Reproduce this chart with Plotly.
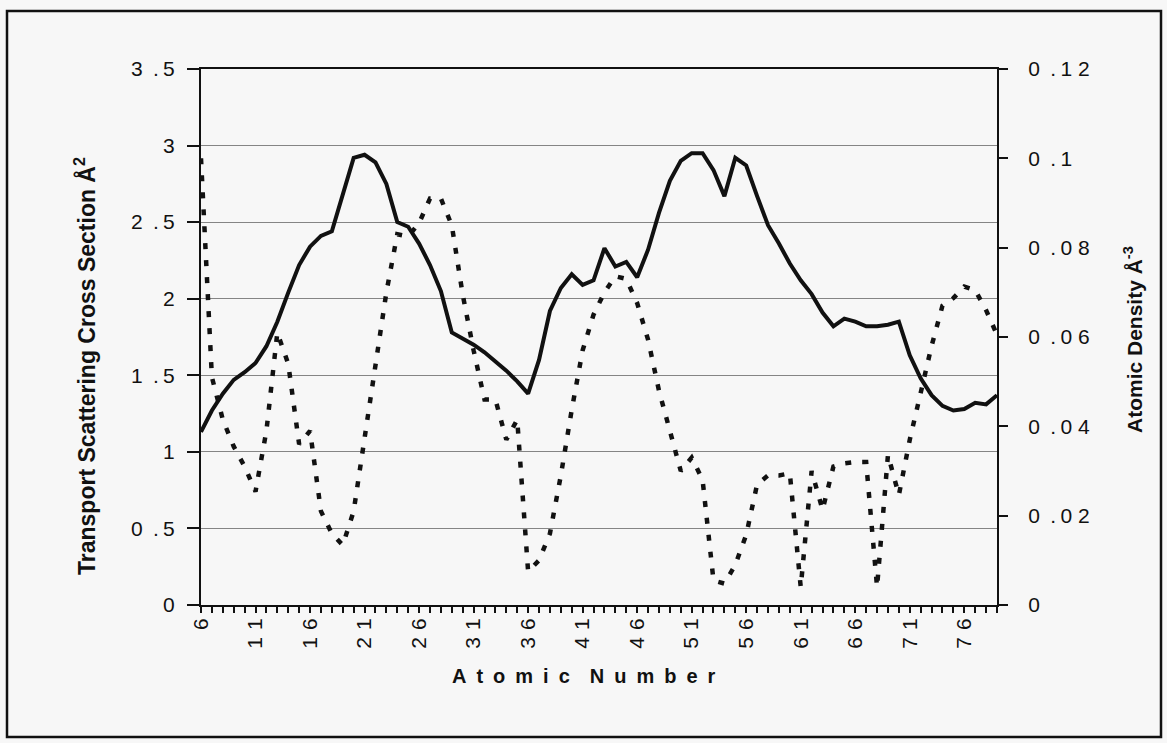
import plotly.graph_objects as go

# Atomic number on the category axis
atomic_number = list(range(6, 80))

# Transport scattering cross section (Å^2), left axis
cross_section = [
    1.13, 1.27, 1.38, 1.47, 1.52, 1.58, 1.69, 1.85, 2.04, 2.22,   # 6-15
    2.34, 2.41, 2.44, 2.67, 2.92, 2.94, 2.89, 2.75, 2.50, 2.47,   # 16-25
    2.36, 2.22, 2.05, 1.78, 1.74, 1.70, 1.65, 1.59, 1.53, 1.46,   # 26-35
    1.38, 1.60, 1.92, 2.07, 2.16, 2.09, 2.12, 2.33, 2.21, 2.24,   # 36-45
    2.14, 2.32, 2.56, 2.77, 2.90, 2.95, 2.95, 2.84, 2.67, 2.92,   # 46-55
    2.87, 2.67, 2.48, 2.36, 2.23, 2.12, 2.03, 1.91, 1.82, 1.87,   # 56-65
    1.85, 1.82, 1.82, 1.83, 1.85, 1.63, 1.48, 1.37, 1.30, 1.27,   # 66-75
    1.28, 1.32, 1.31, 1.37,                                       # 76-79
]

# Atomic density (Å^-3), right axis
atomic_density = [
    0.100, 0.051, 0.0415, 0.0355, 0.031, 0.0254, 0.039, 0.061, 0.054, 0.036,      # 6-15
    0.039, 0.021, 0.016, 0.0134, 0.021, 0.037, 0.054, 0.070, 0.083, 0.0825,       # 16-25
    0.0855, 0.091, 0.091, 0.085, 0.0695, 0.057, 0.046, 0.046, 0.037, 0.0415,      # 26-35
    0.0075, 0.010, 0.016, 0.029, 0.0437, 0.057, 0.065, 0.070, 0.0736, 0.073,      # 36-45
    0.0676, 0.0594, 0.048, 0.0385, 0.030, 0.033, 0.028, 0.0055, 0.0048, 0.009,    # 46-55
    0.0157, 0.027, 0.029, 0.029, 0.0295, 0.004, 0.030, 0.0213, 0.031, 0.0317,    # 56-65
    0.032, 0.032, 0.004, 0.0336, 0.0246, 0.037, 0.048, 0.058, 0.067, 0.0687,     # 66-75
    0.0713, 0.0705, 0.066, 0.0605,                                                # 76-79
]

# Typographic spaces used for the widely tracked labels
EN = "\u2002"
THIN = "\u2009"
THREE = "\u2004"


def tracked(number_text):
    """Spread the characters of a tick label the way the printed axis shows them."""
    if "." in number_text:
        head, tail = number_text.split(".")
        return head + EN + "." + THIN + " ".join(tail)
    return THREE.join(number_text)


# Axis tick values and their printed labels
x_labelled = list(range(6, 80, 5))
x_ticktext = [tracked(str(z)) if z in x_labelled else "" for z in atomic_number]

left_tickvals = [0, 0.5, 1, 1.5, 2, 2.5, 3, 3.5]
left_ticktext = [tracked(s) for s in ["0", "0.5", "1", "1.5", "2", "2.5", "3", "3.5"]]

right_tickvals = [0, 0.02, 0.04, 0.06, 0.08, 0.10, 0.12]
right_ticktext = [tracked(s) for s in ["0", "0.02", "0.04", "0.06", "0.08", "0.1", "0.12"]]

INK = "#111111"
PAPER = "#f7f7f7"
FONT = "Liberation Sans, Arial, sans-serif"

fig = go.Figure()

fig.add_trace(go.Scatter(
    x=atomic_number, y=cross_section, mode="lines",
    line=dict(color=INK, width=4),
    yaxis="y", hoverinfo="skip",
))
fig.add_trace(go.Scatter(
    x=atomic_number, y=atomic_density, mode="lines",
    line=dict(color=INK, width=4.5, dash="6px,11px"),
    yaxis="y2", hoverinfo="skip",
))

tickfont = dict(family=FONT, size=21, color=INK)

fig.update_layout(
    width=1167, height=743,
    autosize=False,
    margin=dict(l=201, r=170, t=69, b=138),
    paper_bgcolor=PAPER, plot_bgcolor=PAPER,
    showlegend=False,
    xaxis=dict(
        range=[6, 79], tickmode="array",
        tickvals=atomic_number, ticktext=x_ticktext,
        tickangle=-90, ticks="outside", ticklen=6, tickwidth=1.5, tickcolor=INK,
        showline=True, linewidth=2, linecolor=INK, mirror=True,
        showgrid=False, zeroline=False, tickfont=tickfont,
        ticklabelstandoff=-3,
    ),
    yaxis=dict(
        range=[0, 3.5], tickmode="array",
        tickvals=left_tickvals, ticktext=left_ticktext,
        ticks="outside", ticklen=12, tickwidth=1.5, tickcolor=INK,
        showline=True, linewidth=2, linecolor=INK,
        showgrid=True, gridcolor="#858585", gridwidth=1,
        zeroline=False, tickfont=tickfont, ticklabelstandoff=8,
    ),
    yaxis2=dict(
        overlaying="y", side="right",
        range=[0, 0.12], tickmode="array",
        tickvals=right_tickvals, ticktext=right_ticktext,
        ticks="outside", ticklen=9, tickwidth=1.5, tickcolor=INK,
        showline=True, linewidth=2, linecolor=INK,
        showgrid=False, zeroline=False, tickfont=tickfont,
        ticklabelstandoff=16,
    ),
    yaxis3=dict(
        overlaying="y", side="right",
        range=[0, 0.12], tickmode="array", tickvals=right_tickvals,
        ticks="inside", ticklen=9, tickwidth=1.5, tickcolor=INK,
        showticklabels=False, showline=False,
        showgrid=False, zeroline=False,
    ),
)

fig.add_annotation(
    text="Transport Scattering Cross Section Å<sup>2</sup>",
    xref="paper", yref="paper", x=(85 - 201) / 796, y=(605 - 366) / 536,
    xanchor="center", yanchor="middle",
    textangle=-90, showarrow=False,
    font=dict(family=FONT, size=23, color=INK, weight="bold"),
)
fig.add_annotation(
    text="Atomic Density Å<sup>-3</sup>",
    xref="paper", yref="paper", x=(1133 - 201) / 796, y=(605 - 340) / 536,
    xanchor="center", yanchor="middle",
    textangle=-90, showarrow=False,
    font=dict(family=FONT, size=21, color=INK, weight="bold"),
)
fig.add_annotation(
    text=EN.join("Atomic") + EN + EN + EN.join("Number"),
    xref="paper", yref="paper", x=(584 - 201) / 796, y=(605 - 676) / 536,
    xanchor="center", yanchor="middle",
    showarrow=False,
    font=dict(family=FONT, size=20, color=INK, weight="bold"),
)

# Outer frame around the whole chart
fig.add_shape(
    type="rect", xref="paper", yref="paper",
    x0=(7 - 201) / 796, x1=(1161 - 201) / 796,
    y0=(605 - 737) / 536, y1=(605 - 11) / 536,
    line=dict(color=INK, width=2.5), fillcolor="rgba(0,0,0,0)",
)

fig.write_html("out.html")
